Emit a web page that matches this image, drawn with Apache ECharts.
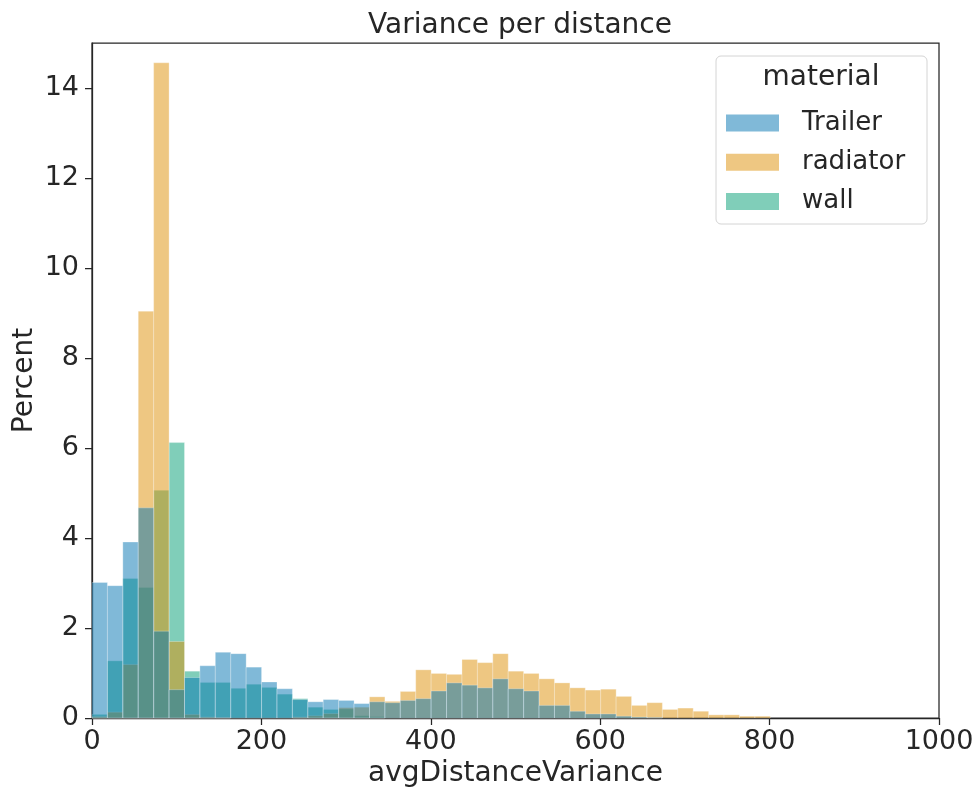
<!DOCTYPE html>
<html>
<head>
<meta charset="utf-8">
<script src="https://cdn.jsdelivr.net/npm/echarts@6/dist/echarts.min.js"></script>
<style>
html,body{margin:0;padding:0;background:#fff;}
#chart{width:976px;height:792px;}
</style>
</head>
<body>
<div id="chart"></div>
<script>
// Histogram bin definition (avgDistanceVariance)
const binStart = 0;
const binWidth = 18.2;
const seriesNames = ['Trailer', 'radiator', 'wall'];
// Percent per bin
const trailerPct = [3.01, 2.94, 3.91, 4.67, 1.93, 0.63, 0.90, 1.16, 1.46, 1.43, 1.13, 0.80, 0.65, 0.41, 0.36, 0.41, 0.39, 0.32, 0.36, 0.34, 0.39, 0.43, 0.60, 0.78, 0.73, 0.67, 0.87, 0.65, 0.60, 0.28, 0.28, 0.15, 0.09, 0.09, 0.04, 0.02, 0.01, 0, 0, 0, 0, 0, 0, 0];
const radiatorPct = [0.03, 0.13, 1.19, 9.04, 14.56, 1.70, 0.08, 0.02, 0.01, 0, 0, 0, 0, 0.02, 0.05, 0.10, 0.23, 0.24, 0.47, 0.37, 0.59, 1.07, 0.99, 0.97, 1.30, 1.23, 1.43, 1.04, 0.99, 0.87, 0.78, 0.67, 0.62, 0.64, 0.48, 0.28, 0.34, 0.19, 0.22, 0.15, 0.07, 0.07, 0.04, 0.04];
const wallPct = [0.08, 1.27, 3.10, 2.90, 5.06, 6.12, 1.04, 0.79, 0.79, 0.66, 0.75, 0.68, 0.53, 0.43, 0.24, 0.19, 0.20, 0.05, 0.03, 0, 0, 0, 0, 0, 0, 0, 0, 0, 0, 0, 0, 0, 0, 0, 0, 0, 0, 0, 0, 0, 0, 0, 0, 0];
const xTicks = [0, 200, 400, 600, 800, 1000];
const yTicks = [0, 2, 4, 6, 8, 10, 12, 14];

const colors = {
  Trailer: 'rgba(1,115,178,0.5)',
  radiator: 'rgba(222,143,5,0.5)',
  wall: 'rgba(2,158,115,0.5)'
};
const FONT = 'DejaVu Sans';
const TXT = '#262626';

function toBins(vals) {
  return vals.map((v, i) => [binStart + i * binWidth, binStart + (i + 1) * binWidth, v]);
}

function makeSeries(name, vals) {
  return {
    name: name,
    type: 'custom',
    itemStyle: { color: colors[name] },
    encode: { x: [0, 1], y: 2 },
    data: toBins(vals),
    renderItem: function (params, api) {
      const v = api.value(2);
      if (!v) return null;
      const p0 = api.coord([api.value(0), v]);
      const p1 = api.coord([api.value(1), 0]);
      return {
        type: 'rect',
        shape: { x: p0[0], y: p0[1], width: p1[0] - p0[0], height: p1[1] - p0[1] },
        style: { fill: colors[name], stroke: 'rgba(255,255,255,0.28)', lineWidth: 1 }
      };
    }
  };
}

const chart = echarts.init(document.getElementById('chart'), null, { renderer: 'canvas' });
chart.setOption({
  backgroundColor: '#ffffff',
  animation: false,
  title: {
    text: 'Variance per distance',
    left: 515, textAlign: 'center', top: 7,
    textStyle: { fontFamily: FONT, fontSize: 28, fontWeight: 'normal', color: TXT }
  },
  grid: {
    left: 92, top: 43, width: 847, height: 675,
    containLabel: false, outerBoundsMode: 'none',
    show: true, borderColor: TXT, borderWidth: 1.25, backgroundColor: 'transparent'
  },
  xAxis: {
    type: 'value', min: 0, max: 1000, interval: 200,
    name: 'avgDistanceVariance', nameLocation: 'middle', nameGap: 42,
    nameMoveOverlap: false,
    nameTextStyle: { fontFamily: FONT, fontSize: 28, color: TXT },
    axisLine: { show: true, lineStyle: { color: TXT, width: 1.25 } },
    axisTick: { show: true, inside: false, length: 7, lineStyle: { color: TXT, width: 1.25 }, customValues: xTicks },
    axisLabel: { fontFamily: FONT, fontSize: 27, color: TXT, margin: 10, customValues: xTicks,
                 formatter: function (v) { return String(v); } },
    splitLine: { show: false }
  },
  yAxis: {
    type: 'value', min: 0, max: 15, interval: 2,
    name: 'Percent', nameLocation: 'middle', nameGap: 53,
    nameMoveOverlap: false,
    nameTextStyle: { fontFamily: FONT, fontSize: 28, color: TXT },
    axisLine: { show: true, lineStyle: { color: TXT, width: 1.25 } },
    axisTick: { show: true, inside: false, length: 7, lineStyle: { color: TXT, width: 1.25 }, customValues: yTicks },
    axisLabel: { fontFamily: FONT, fontSize: 27, color: TXT, margin: 13, customValues: yTicks,
                 formatter: function (v) { return String(v); } },
    splitLine: { show: false }
  },
  legend: {
    data: seriesNames,
    orient: 'vertical',
    left: 726, top: 110,
    padding: 0,
    itemWidth: 53, itemHeight: 17, itemGap: 13.3,
    icon: 'rect',
    textStyle: { fontFamily: FONT, fontSize: 26, color: TXT, lineHeight: 26, padding: [0, 0, 0, 18] }
  },
  graphic: [
    {
      type: 'rect', z: 0, silent: true,
      shape: { x: 716, y: 56, width: 211, height: 168, r: 5 },
      style: { fill: 'rgba(255,255,255,0.8)', stroke: '#d4d4d4', lineWidth: 1 }
    },
    {
      type: 'text', z: 1, silent: true,
      style: { x: 821, y: 78, text: 'material', align: 'center', verticalAlign: 'middle',
               font: '28px "DejaVu Sans"', fill: TXT }
    }
  ],
  series: [
    makeSeries('wall', wallPct),
    makeSeries('radiator', radiatorPct),
    makeSeries('Trailer', trailerPct)
  ]
});
</script>
</body>
</html>
